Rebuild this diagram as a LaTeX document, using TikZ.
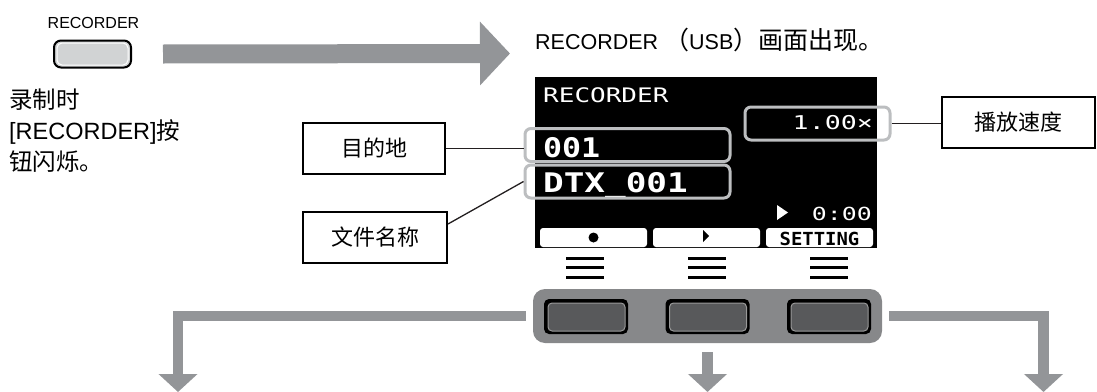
\documentclass[tikz,border=0pt]{standalone}
\usepackage{fontspec}
\setmainfont{Liberation Sans}
\newfontfamily\cjk{Noto Sans CJK SC}
\newfontfamily\lcdfont{DejaVu Sans Mono}
\usetikzlibrary{arrows.meta}
\definecolor{arrowgray}{HTML}{939598}
\definecolor{panelgray}{HTML}{87888A}
\definecolor{framegray}{HTML}{BCBEC0}
\definecolor{keygray}{HTML}{58595B}
\definecolor{btngray}{HTML}{D1D3D4}
\definecolor{leadblack}{HTML}{231F20}
\newcommand\lcdtxt[3]{\fontsize{#1}{#1}\selectfont\scalebox{#2}[1]{#3}}
\tikzset{
  labelbox/.style={draw=black, line width=2pt, minimum width=142pt, minimum height=51pt,
    inner sep=0pt, font=\cjk\fontsize{22}{22}\selectfont},
  itemframe/.style={draw=framegray, line width=3pt, rounded corners=6pt, minimum height=33pt, inner sep=0pt},
  lcd/.style={text=white, inner sep=0pt, font=\lcdfont},
  lead/.style={draw=leadblack, line width=1.3pt},
  flowarrow/.style={draw=arrowgray, line width=10.5pt, -{Triangle[width=38pt,length=18pt]}},
  softkey/.style={fill=black, rounded corners=5pt, minimum width=84pt, minimum height=35pt, inner sep=0pt},
  tab/.style={fill=white, rounded corners=3pt, minimum width=107pt, minimum height=19pt, inner sep=0pt}
}
\begin{document}
\begin{tikzpicture}[x=1pt, y=-1pt]
  \useasboundingbox (0,0) rectangle (1097,391);
  % recorder button and its note
  \node[inner sep=0pt, font=\fontsize{16}{16}\selectfont] (reclabel) at (93.5,23) {RECORDER};
  \node[fill=btngray, draw=black, line width=2pt, rounded corners=7pt, minimum width=77pt,
    minimum height=27pt, inner sep=0pt] (recbtn) at (92.5,54) {};
  \draw[white, line width=1pt, rounded corners=5pt] (57,43) rectangle (128,65);
  \node[anchor=north west, inner sep=0pt, align=left, font=\fontsize{23.5}{31}\selectfont] (recnote) at (9,89)
    {{\cjk 录制时}\\{[RECORDER]}{\cjk 按}\\{\cjk 钮闪烁。}};
  % top arrow
  \coordinate (topend) at (510,53.5);
  \draw[draw=arrowgray, line width=19pt, -{Triangle[width=62pt,length=30pt]}]
    ([xshift=31pt]recbtn.east) -- (topend);
  \node[anchor=base west, inner sep=0pt, font=\fontsize{21.5}{21.5}\selectfont] (title) at (535,49)
    {RECORDER {\cjk\fontsize{25}{25}\selectfont （}USB{\cjk\fontsize{25}{25}\selectfont ）画面出现。}};
  % screen
  \fill[black] (535,77) rectangle (877,248);
  \node[lcd, anchor=base west] (scrtitle) at (543,102) {\lcdtxt{20}{1.3}{RECORDER}};
  \node[lcd, anchor=base east] (speedval) at (873,129.5) {\lcdtxt{19}{1.4}{1.00×}};
  \node[lcd, anchor=base west] (dirval) at (543,157) {\lcdtxt{27}{1.17}{\bfseries 001}};
  \node[lcd, anchor=base west] (fileval) at (543,192) {\lcdtxt{27}{1.27}{\bfseries DTX\_001}};
  \fill[white] (777,205) -- (788,212.5) -- (777,220) -- cycle;
  \node[lcd, anchor=base east] (timeval) at (872,220) {\lcdtxt{18}{1.38}{0:00}};
  \node[tab] (tab1) at (593.5,237.5) {};
  \node[tab] (tab2) at (706.5,237.5) {};
  \node[tab] (tab3) at (819.5,237.5) {};
  \fill[black] (tab1) circle (5);
  \fill[black] (703,230) -- (709,236) -- (703,242) -- cycle;
  \node[inner sep=0pt, anchor=base, font=\lcdfont] (setting) at (819.5,245) {\lcdtxt{18}{1.05}{\bfseries SETTING}};
  % frames on the screen
  \node[itemframe, minimum width=205pt] (f001) at (627.5,145) {};
  \node[itemframe, minimum width=205pt] (fdtx) at (627.5,181.5) {};
  \node[itemframe, minimum width=145pt] (fspeed) at (817.5,123.5) {};
  % labels
  \node[labelbox] (dest) at (374,148.5) {目的地};
  \node[labelbox, minimum width=144pt] (fname) at (375,237) {文件名称};
  \node[labelbox, minimum width=153pt] (speed) at (1018.5,122.5) {播放速度};
  \draw[lead] (dest.east) -- (dest.east -| f001.west);
  \draw[lead] ([yshift=13pt]fname.east) -- (fdtx.west);
  \draw[lead] (fspeed.east) -- (fspeed.east -| speed.west);
  % key marks
  \foreach \kx in {585,707,829}
    \foreach \ky in {258.5,267.5,277.5}
      \fill[black] (\kx-19,\ky-1.5) rectangle (\kx+19,\ky+1.5);
  % panel and keys
  \node[fill=panelgray, rounded corners=12pt, minimum width=349pt, minimum height=54pt] (panel) at (707.5,316) {};
  \foreach \kx/\kname in {586/key1,707.5/key2,829/key3} {
    \node[softkey] (\kname) at (\kx,316.5) {};
    \draw[draw=gray!80, fill=keygray, line width=1pt, rounded corners=4pt]
      (\kx-38,303) rectangle (\kx+39,331);
  }
  % outgoing arrows
  \coordinate (outL) at (178,392);
  \coordinate (outM) at (707.5,392);
  \coordinate (outR) at (1043.5,392);
  \draw[flowarrow] ([xshift=-7pt]panel.west) -| (outL);
  \draw[flowarrow] ([yshift=-9pt]panel.south) -- (outM);
  \draw[flowarrow] ([xshift=7pt]panel.east) -| (outR);
\end{tikzpicture}
\end{document}
